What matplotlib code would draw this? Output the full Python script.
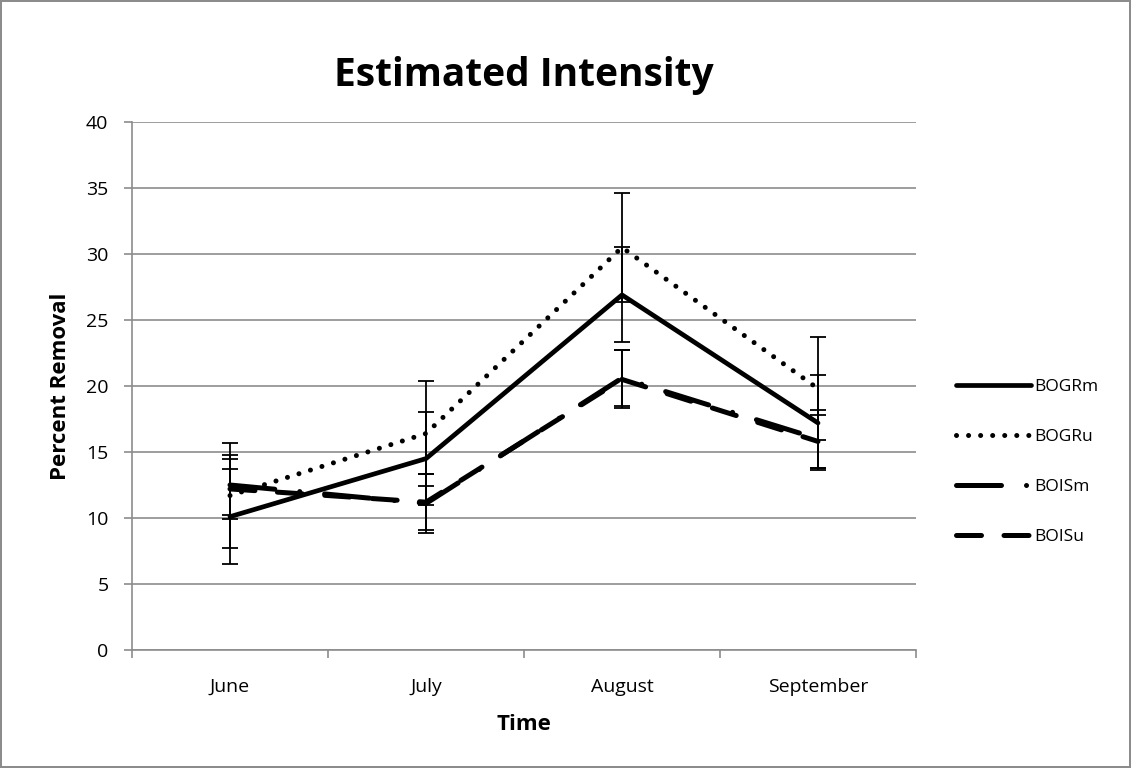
import matplotlib
matplotlib.use('Agg')
import matplotlib.pyplot as plt

plt.rcParams['font.family'] = ['Open Sans', 'DejaVu Sans']

# data
months = ['June', 'July', 'August', 'September']
bogrm = [10.1, 14.5, 26.9, 17.2]
bogrm_err = [3.6, 3.5, 3.6, 3.6]
bogru = [11.7, 16.4, 30.5, 19.8]
bogru_err = [4.0, 4.0, 4.1, 3.9]
boism = [12.5, 11.1, 20.6, 16.0]
boism_err = [2.3, 2.2, 2.1, 2.2]
boisu = [12.2, 11.2, 20.5, 15.8]
boisu_err = [2.3, 2.1, 2.2, 2.0]

fig = plt.figure(figsize=(11.31, 7.68), dpi=100, linewidth=1.5, edgecolor='#8c8c8c')
ax = fig.add_axes([132/1131, 1 - 650/768, (916-132)/1131, (650-122)/768])

x = list(range(len(months)))
series = [
    ('BOGRm', bogrm, bogrm_err, '-'),
    ('BOGRu', bogru, bogru_err, (0, (0.01, 2.4))),
    ('BOISm', boism, boism_err, (0, (9, 5, 0.01, 5))),
    ('BOISu', boisu, boisu_err, (0, (5, 4.5))),
]
for name, vals, err, ls in series:
    lw = 3.4 if ls == '-' else 3.6
    ax.errorbar(x, vals, yerr=err, fmt='none', ecolor='black', elinewidth=1.3,
                capsize=6, capthick=1.3, zorder=2)
    ax.plot(x, vals, color='black', lw=lw, linestyle=ls, dash_capstyle='round',
            solid_capstyle='round', label=name, zorder=3)

ax.set_xlim(-0.5, 3.5)
ax.set_ylim(0, 40)
ax.set_yticks(range(0, 41, 5))
ax.yaxis.grid(True, color='#8c8c8c', lw=1.2)
ax.set_axisbelow(True)
ax.set_xticks(x)
ax.set_xticklabels(months)
ax.set_xticks([-0.5, 0.5, 1.5, 2.5, 3.5], minor=True)
ax.tick_params(axis='x', which='major', length=0, pad=20, labelsize=14)
ax.tick_params(axis='x', which='minor', length=6, color='#8c8c8c', width=1.2)
ax.tick_params(axis='y', length=6, color='#8c8c8c', width=1.2, labelsize=14, pad=11)
for s in ['top', 'right']:
    ax.spines[s].set_visible(False)
for s in ['left', 'bottom']:
    ax.spines[s].set_color('#8c8c8c')
    ax.spines[s].set_linewidth(1.2)

ax.set_title('Estimated Intensity', fontsize=28, fontweight='bold', pad=26)
ax.set_xlabel('Time', fontsize=16, fontweight='bold', labelpad=13)
ax.set_ylabel('Percent Removal', fontsize=16, fontweight='bold', labelpad=11)

ax.legend(loc='center left', bbox_to_anchor=(956/1131, 1 - 462/768), bbox_transform=fig.transFigure,
          frameon=False, fontsize=12.5, borderaxespad=0, borderpad=0,
          handlelength=4.3, handletextpad=0.2, labelspacing=1.95)

fig.savefig('out.png', dpi=100, edgecolor=fig.get_edgecolor())
